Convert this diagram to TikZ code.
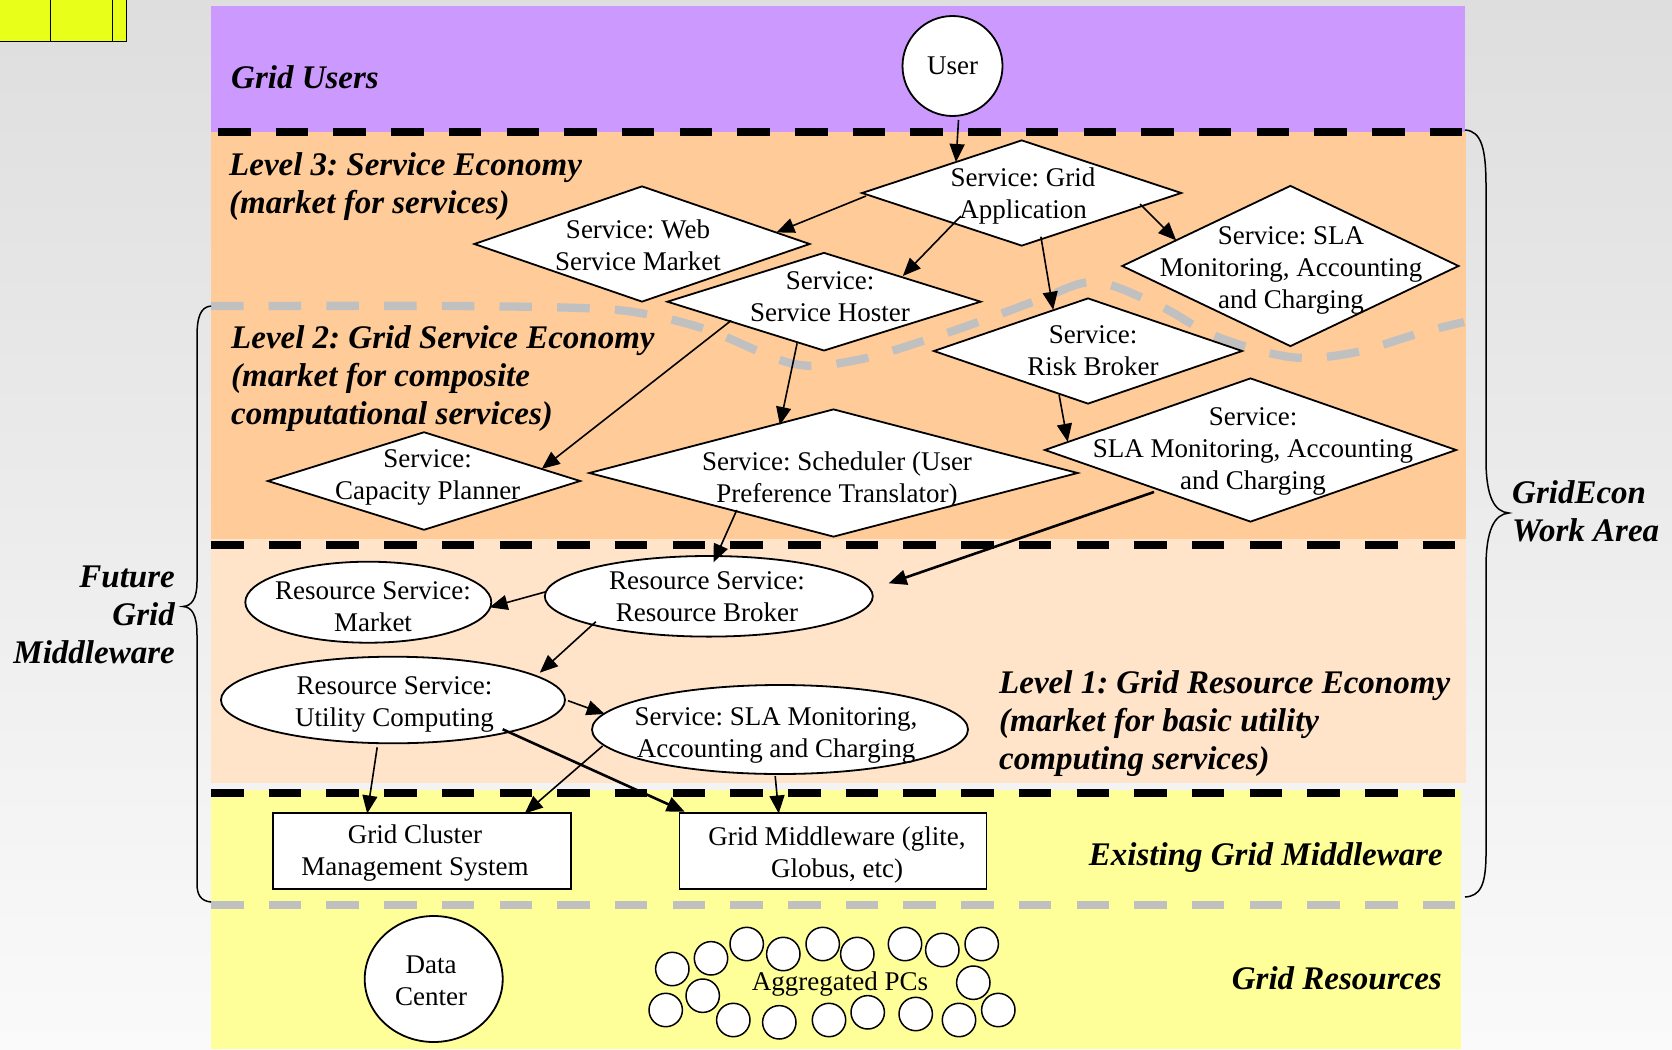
\documentclass[tikz,border=0pt]{standalone}
\usepackage{fontspec}
\setmainfont{Liberation Serif}
\usetikzlibrary{arrows.meta,shapes.geometric,calc}
\definecolor{bgtop}{HTML}{DEDEDE}
\definecolor{bgbot}{HTML}{FAFAFA}
\definecolor{upurple}{HTML}{CC99FF}
\definecolor{lorange}{HTML}{FFCC99}
\definecolor{lpeach}{HTML}{FFE4CA}
\definecolor{lyellow}{HTML}{FFFF99}
\definecolor{tly}{HTML}{E8FF1A}
\definecolor{dgray}{HTML}{C0C0C0}
\begin{document}
\frenchspacing
\begin{tikzpicture}[x=1pt,y=-1pt,
  ntxt/.style={inner sep=0pt, align=center, font=\fontsize{27}{32}\selectfont},
  lab/.style={inner sep=0pt, font=\fontsize{33}{38}\selectfont\bfseries\itshape},
  dia/.style={diamond, draw, fill=white, line width=1.8pt, inner sep=0pt},
  ell/.style={ellipse, draw, fill=white, line width=1.8pt, inner sep=0pt},
  box/.style={rectangle, draw, fill=white, line width=1.8pt, inner sep=0pt},
  pc/.style={circle, draw, fill=white, line width=1.5pt, inner sep=0pt, minimum size=33.4pt},
  bdash/.style={line width=8.3pt, dash pattern=on 32.5pt off 25.2pt},
  gdash/.style={bdash, draw=dgray},
  brc/.style={line width=1.5pt},
  arr/.style={line width=1.6pt, -{Triangle[length=18pt,width=15pt]}},
  arrb/.style={line width=2.6pt, -{Triangle[length=18pt,width=15pt]}}
]
\useasboundingbox (0,0) rectangle (1672,1049);
\shade[top color=bgtop, bottom color=bgbot] (0,0) rectangle (1672,1049);

% top-left yellow box
\filldraw[fill=tly, draw=black, line width=1pt] (-2,-2) rectangle (126,42);
\draw[line width=1pt] (50,0) -- (50,42) (112,0) -- (112,42);

% bands
\fill[upurple] (211,6) rectangle (1465,132);
\fill[lorange] (211,132) rectangle (1466,539);
\fill[lpeach] (211,539) rectangle (1466,783);
\fill[lyellow] (211,790) rectangle (1461,1049);

% separators
\draw[bdash] (218,132) -- (1464,132);
\draw[bdash] (211,545) -- (1466,545);
\draw[bdash] (211,793) -- (1462,793);
\draw[gdash] (211,905) -- (1462,905);
\draw[gdash] plot[smooth, tension=0.55] coordinates {(211,306) (450,306) (580,308) (640,313) (708,330) (794,364) (857,360) (926,340) (995,316) (1041,299) (1095,282) (1160,306) (1215,336) (1290,357) (1352,353) (1420,333) (1464,322)};

% braces
\draw[brc] (1465,130) .. controls (1482,131) and (1486,150) .. (1486,187) -- (1486,460) .. controls (1486,496) and (1494,512) .. (1509,513) .. controls (1494,514) and (1486,531) .. (1486,567) -- (1486,853) .. controls (1486,886) and (1480,896) .. (1465,897);
\draw[brc] (211,306) .. controls (200,307) and (197,318) .. (197,337) -- (197,582) .. controls (197,598) and (192,606) .. (183,606.5) .. controls (192,607) and (197,615) .. (197,635) -- (197,884) .. controls (197,895) and (201,901) .. (211,902);

% labels
\node[lab, anchor=west] (lu) at (231,77) {Grid Users};
\node[lab, anchor=west, align=left] (l3) at (229,187) {Level 3: Service Economy\\(market for services)};
\node[lab, anchor=west, align=left] (l2) at (231,379) {Level 2: Grid Service Economy\\(market for composite\\computational services)};
\node[lab, anchor=west, align=left] (l1) at (999,724) {Level 1: Grid Resource Economy\\(market for basic utility\\computing services)};
\node[lab, anchor=east] (lex) at (1443,858) {Existing Grid Middleware};
\node[lab, anchor=east] (lgr) at (1442,978) {Grid Resources};
\node[lab, anchor=west, align=left] (lge) at (1512,511.5) {GridEcon\\Work Area};
\node[lab, anchor=east, align=right] (lfg) at (175,614.5) {Future\\Grid\\Middleware};

% nodes
\node[ell, minimum width=100pt, minimum height=100pt, font=\fontsize{27}{32}\selectfont] (user) at (952.5,66) {User};

\node[dia, minimum width=320pt, minimum height=106pt] (ga) at (1021.7,193) {};
\node[ntxt] (ga-t) at (1023,196.5) {Service: Grid\\Application};
\node[dia, minimum width=336pt, minimum height=116pt] (wsm) at (642,244) {};
\node[ntxt] (wsm-t) at (638,245) {Service: Web\\Service Market};
\node[dia, minimum width=314pt, minimum height=98.4pt] (sh) at (824,301.7) {};
\node[ntxt] (sh-t) at (830,297) {Service:\\Service Hoster};
\node[dia, minimum width=337pt, minimum height=161pt] (slat) at (1290.4,266) {};
\node[ntxt] (slat-t) at (1291,270.6) {Service: SLA\\Monitoring, Accounting\\and Charging};
\node[dia, minimum width=309pt, minimum height=106pt] (rb) at (1088,351) {};
\node[ntxt] (rb-t) at (1093,351) {Service:\\Risk Broker};
\node[dia, minimum width=412pt, minimum height=144pt] (slam) at (1250.5,450) {};
\node[ntxt] (slam-t) at (1253,451) {Service:\\SLA Monitoring, Accounting\\and Charging};
\node[dia, minimum width=313pt, minimum height=98.3pt] (cp) at (424,481) {};
\node[ntxt] (cp-t) at (427.6,477.5) {Service:\\Capacity Planner};
\node[dia, minimum width=489pt, minimum height=128pt] (sch) at (833.5,473) {};
\node[ntxt] (sch-t) at (837,480) {Service: Scheduler (User\\Preference Translator)};

\node[ell, minimum width=246pt, minimum height=81pt] (mk) at (368.3,602.2) {};
\node[ntxt] (mk-t) at (373,607) {Resource Service:\\Market};
\node[ell, minimum width=328pt, minimum height=80.6pt] (rbk) at (708.8,596.3) {};
\node[ntxt] (rbk-t) at (707,597) {Resource Service:\\Resource Broker};
\node[ell, minimum width=344pt, minimum height=86.6pt] (uc) at (393,700) {};
\node[ntxt] (uc-t) at (394.5,704.5) {Resource Service:\\Utility Computing};
\node[ell, minimum width=376pt, minimum height=89pt] (slae) at (780,729.5) {};
\node[ntxt] (slae-t) at (776,735.5) {Service: SLA Monitoring,\\Accounting and Charging};

\node[box, minimum width=298.6pt, minimum height=75.7pt] (gcm) at (422,851) {};
\node[ntxt] (gcm-t) at (415,853) {Grid Cluster\\Management System};
\node[box, minimum width=307pt, minimum height=75.7pt] (gmw) at (833,851) {};
\node[ntxt] (gmw-t) at (837,855) {Grid Middleware (glite,\\Globus, etc)};

\node[ell, minimum width=138pt, minimum height=126pt] (dc) at (433.7,979) {};
\node[ntxt] (dc-t) at (431,981) {Data\\Center};

% aggregated PCs
\node[pc] (pc1) at (672.3,969) {};
\node[pc] (pc2) at (711,958.3) {};
\node[pc] (pc3) at (746.7,944) {};
\node[pc] (pc4) at (783.3,954) {};
\node[pc] (pc5) at (822.7,944) {};
\node[pc] (pc6) at (857.3,954) {};
\node[pc] (pc7) at (905,944) {};
\node[pc] (pc8) at (942.3,950) {};
\node[pc] (pc9) at (981.7,944) {};
\node[pc] (pc10) at (973.3,982.7) {};
\node[pc] (pc11) at (998.3,1010) {};
\node[pc] (pc12) at (959,1020) {};
\node[pc] (pc13) at (915.7,1014) {};
\node[pc] (pc14) at (867.7,1012.3) {};
\node[pc] (pc15) at (829,1020) {};
\node[pc] (pc16) at (779.3,1022.3) {};
\node[pc] (pc17) at (733.3,1020) {};
\node[pc] (pc18) at (702.7,995.7) {};
\node[pc] (pc19) at (665.7,1010) {};
\node[ntxt] (apc) at (840,983.7) {Aggregated PCs};

% arrows
\draw[arr] ([shift={(6,54)}]user.center) -- ([shift={(-65.7,-31)}]ga.center);
\draw[arr] ([shift={(-155.7,3)}]ga.center) -- ([shift={(134.4,-11.6)}]wsm.center);
\draw[arr] ([shift={(-60.8,23)}]ga.center) -- ([shift={(78.8,-25.7)}]sh.center);
\draw[arr] ([shift={(118.3,11)}]ga.center) -- ([shift={(-114.2,-25.6)}]slat.center);
\draw[arr] ([shift={(19.2,43.7)}]ga.center) -- ([shift={(-34.8,-41.2)}]rb.center);
\draw[arr] ([shift={(-92.8,18.8)}]sh.center) -- ([shift={(117.7,-12.1)}]cp.center);
\draw[arr] ([shift={(-26.9,41.6)}]sh.center) -- ([shift={(-53.6,-48)}]sch.center);
\draw[arr] ([shift={(-28.9,44)}]rb.center) -- ([shift={(-182.8,-8.2)}]slam.center);
\draw[arr] ([shift={(-96.7,37)}]sch.center) -- ([shift={(4.7,-34)}]rbk.center);
\draw[arrb] ([shift={(-96.5,42)}]slam.center) -- ([shift={(179.9,-13)}]rbk.center);
\draw[arr] ([shift={(-162.7,-4.6)}]rbk.center) -- ([shift={(121.3,5.1)}]mk.center);
\draw[arr] ([shift={(-113,25.4)}]rbk.center) -- ([shift={(146.8,-27.3)}]uc.center);
\draw[arr] ([shift={(175,0.7)}]uc.center) -- ([shift={(-175.3,-15.5)}]slae.center);
\draw[arr] ([shift={(-15.8,47.3)}]uc.center) -- ([shift={(-54.8,-37.5)}]gcm.center);
\draw[arrb] ([shift={(109.7,29.3)}]uc.center) -- ([shift={(-148.3,-39.3)}]gmw.center);
\draw[arr] ([shift={(-177.4,16.5)}]slae.center) -- ([shift={(102.7,-37.5)}]gcm.center);
\draw[arr] ([shift={(-4.8,46.5)}]slae.center) -- ([shift={(-54.3,-37.5)}]gmw.center);
\end{tikzpicture}
\end{document}
